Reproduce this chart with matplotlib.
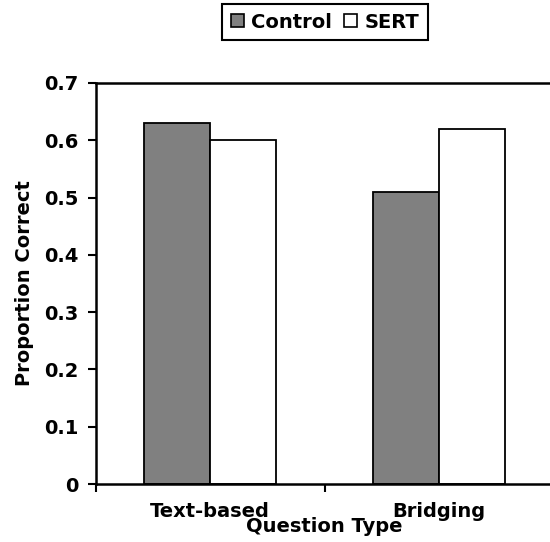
import numpy as np
import matplotlib.pyplot as plt
from matplotlib.patches import Patch

# values
categories = ["Text-based", "Bridging"]
control = [0.63, 0.51]
sert = [0.60, 0.62]
series_names = ["Control", "SERT"]
yticks = [0, 0.1, 0.2, 0.3, 0.4, 0.5, 0.6, 0.7]

plt.rcParams["font.family"] = "DejaVu Sans"
plt.rcParams["font.weight"] = "bold"
FS = 14

fig = plt.figure(figsize=(5.5, 5.42), dpi=100)
# axes runs past the right edge of the picture, as in the reference
ax = fig.add_axes([95.5 / 550, 1 - 484 / 542, 458 / 550, 401 / 542])

x = np.arange(len(categories))
w = 0.29
ax.bar(x - w / 2, control, w, color="#808080", edgecolor="black", linewidth=1.3)
ax.bar(x + w / 2, sert, w, color="white", edgecolor="black", linewidth=1.3)

ax.set_xlim(-0.5, 1.5)
ax.set_ylim(0, 0.7)
ax.set_yticks(yticks)
ax.set_yticklabels([f"{v:g}" for v in yticks], fontsize=FS, fontweight="bold")
ax.set_xticks(x)
ax.set_xticklabels(categories, fontsize=FS, fontweight="bold")
ax.set_xticks([-0.5, 0.5, 1.5], minor=True)
ax.tick_params(axis="x", which="major", length=0, pad=13)
ax.tick_params(axis="x", which="minor", length=6, width=1.5, direction="out")
ax.tick_params(axis="y", length=6, width=1.5, direction="out", pad=6)

for s in ax.spines.values():
    s.set_linewidth(1.8)

fig.text(324.5 / 550, 1 - 527 / 542, "Question Type", ha="center", va="center",
         fontsize=FS, fontweight="bold")
fig.text(25 / 550, 1 - 283.5 / 542, "Proportion Correct", ha="center", va="center",
         rotation=90, fontsize=FS, fontweight="bold")

handles = [Patch(facecolor="#808080", edgecolor="black", linewidth=1.2),
           Patch(facecolor="white", edgecolor="black", linewidth=1.2)]
leg = fig.legend(handles, series_names, loc="center", ncol=2,
                 bbox_to_anchor=(325 / 550, 1 - 22 / 542),
                 prop={"size": FS, "weight": "bold"}, handlelength=0.65, handleheight=0.65,
                 handletextpad=0.4, columnspacing=0.6, borderpad=0.45, borderaxespad=0,
                 fancybox=False, framealpha=1, edgecolor="black")
leg.get_frame().set_linewidth(1.5)

fig.savefig("out.png", dpi=100)
